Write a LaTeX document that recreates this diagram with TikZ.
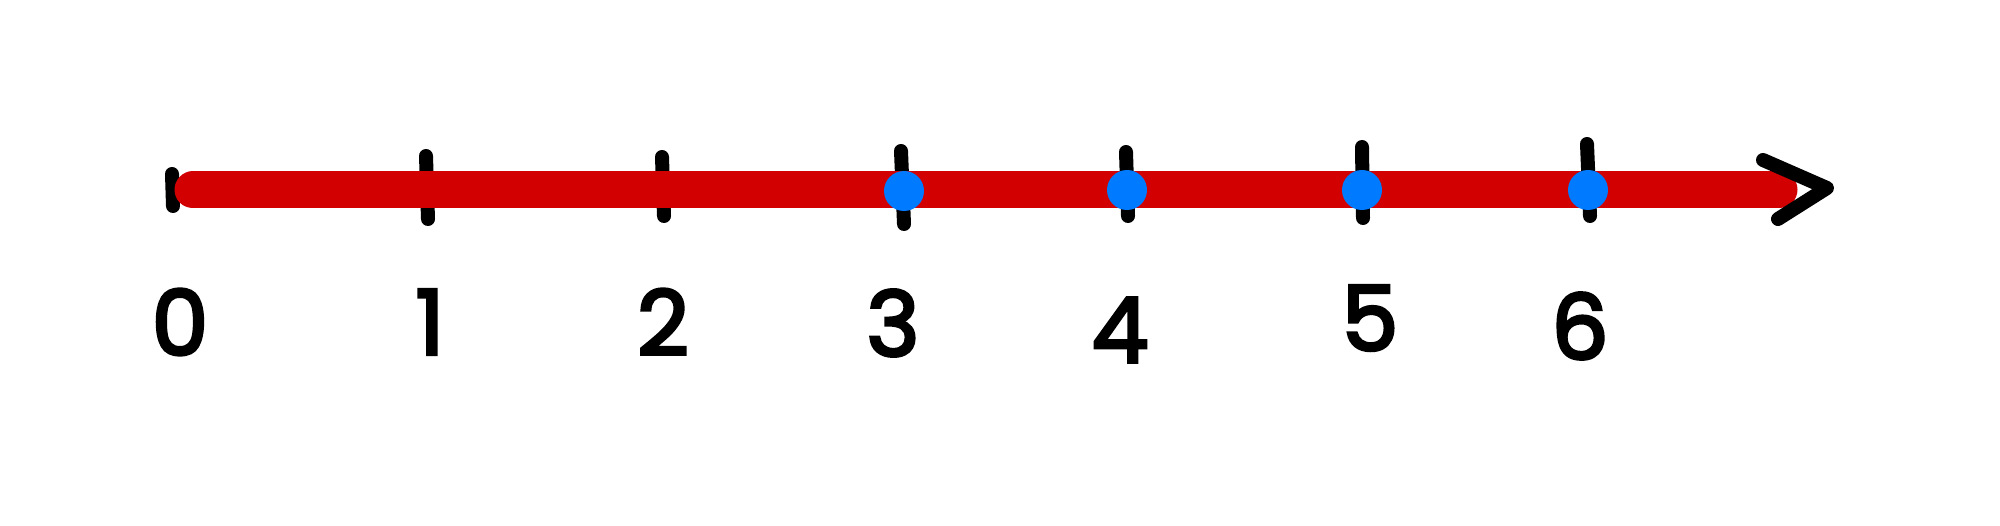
\documentclass[tikz,border=0pt]{standalone}
\usepackage{fontspec}
\setmainfont{Poppins}
\newfontfamily\numfont{Poppins}[FakeBold=3.5]
\definecolor{barred}{RGB}{210,0,0}
\definecolor{dotblue}{RGB}{0,122,255}
\tikzset{
  tickmark/.style={draw=black, line width=14pt, line cap=round},
  barline/.style={draw=barred, line width=37pt, line cap=round},
  arrowstroke/.style={draw=black, line width=14pt, line cap=round, line join=round},
  dotmark/.style={circle, fill=dotblue, minimum size=40pt, inner sep=0pt},
  numlabel/.style={font=\fontsize{90}{90}\numfont\selectfont, text=black, inner sep=0pt, anchor=center}
}
\begin{document}
\begin{tikzpicture}[x=1pt,y=-1pt]
\useasboundingbox (0,0) rectangle (2000,526);
% ticks
\draw[tickmark] (172,174) -- (173,206);
\draw[tickmark] (426,156) -- (428,219);
\draw[tickmark] (662,157) -- (664,216);
\draw[tickmark] (901,151) -- (904,224);
\draw[tickmark] (1126,152) -- (1128,216);
\draw[tickmark] (1362,147) -- (1363,218);
\draw[tickmark] (1587,144) -- (1590,216);
% bar
\coordinate (barstart) at (193,190);
\coordinate (barend) at (1779,190);
\draw[barline] (barstart) -- (barend);
% arrowhead
\coordinate (aup) at (1763,160);
\coordinate (atip) at (1827,188);
\coordinate (alow) at (1778,219);
\draw[arrowstroke] (aup) -- (atip) -- (alow);
% dots
\node[dotmark] (d3) at (904,191) {};
\node[dotmark] (d4) at (1127,190) {};
\node[dotmark] (d5) at (1362,190) {};
\node[dotmark] (d6) at (1588,190) {};
% labels
\node[numlabel] (l0) at (180,322) {0};
\node[numlabel] (l1) at (430,322) {1};
\node[numlabel] (l2) at (663,322) {2};
\node[numlabel] (l3) at (893,323) {3};
\node[numlabel] (l4) at (1120,330) {4};
\node[numlabel] (l5) at (1370,318) {5};
\node[numlabel] (l6) at (1580,326) {6};
\end{tikzpicture}
\end{document}
